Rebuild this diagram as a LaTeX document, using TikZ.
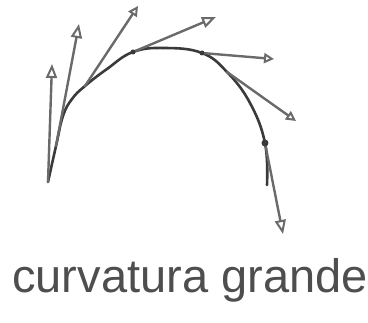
\documentclass[tikz,border=0pt]{standalone}
\usepackage{fontspec}
\setmainfont{Liberation Sans}
\usetikzlibrary{arrows.meta}
\definecolor{pencil}{HTML}{3A3A3A}
\definecolor{pencillight}{HTML}{6A6A6A}
\tikzset{
  curveline/.style={draw=pencil, line width=2.6pt, line cap=round, line join=round},
  tangent/.style={draw=pencillight, line width=2.4pt, line cap=round,
    -{Triangle[open, length=14pt, width=11pt, line width=2pt]}},
  smalltangent/.style={draw=pencillight, line width=2.4pt, line cap=round,
    -{Triangle[open, length=10pt, width=10pt, line width=2pt]}},
  dot/.style={circle, fill=pencil, inner sep=0pt, minimum size=5pt},
  handtext/.style={text=pencil!90, font=\fontsize{47}{47}\selectfont}
}
\begin{document}
\begin{tikzpicture}[x=1pt, y=-1pt]
\useasboundingbox (0,0) rectangle (368,323);
% points on the curve
\coordinate (p0) at (48,182);
\coordinate (p1) at (56,146);
\coordinate (p2) at (63,116);
\coordinate (p2b) at (72,99);
\coordinate (p3) at (85,86);
\coordinate (p4) at (107,69);
\coordinate (p5) at (133,52);
\coordinate (p6) at (165,48);
\coordinate (p7) at (202,53);
\coordinate (p8) at (227,72);
\coordinate (p9) at (250,103);
\coordinate (p10) at (265,143);
\coordinate (p11) at (267,185);
% tangent end points
\coordinate (t0) at (52,64);
\coordinate (t1) at (79,24);
\coordinate (t2) at (138,6);
\coordinate (t5) at (216,17);
\coordinate (t7) at (274,59);
\coordinate (t8) at (296,121);
\coordinate (t10) at (283,234);
% the curve
\draw[curveline] plot[smooth, tension=0.7] coordinates {(p0) (p1) (p2) (p2b) (p3) (p4) (p5) (p6) (p7) (p8) (p9) (p10) (p11)};
% tangents
\draw[tangent] (p0) -- (t0);
\draw[tangent] (p1) -- (t1);
\draw[smalltangent] (p3) -- (t2);
\draw[tangent] (p5) -- (t5);
\draw[smalltangent] (p7) -- (t7);
\draw[smalltangent] (p8) -- (t8);
\draw[tangent] (p10) -- (t10);
% dots
\node[dot] (d1) at (p5) {};
\node[dot] (d2) at (p7) {};
\node[dot, minimum size=7pt] (d3) at (p10) {};
% label
\node[handtext, anchor=base] (label) at (190,293) {curvatura grande};
\end{tikzpicture}
\end{document}
